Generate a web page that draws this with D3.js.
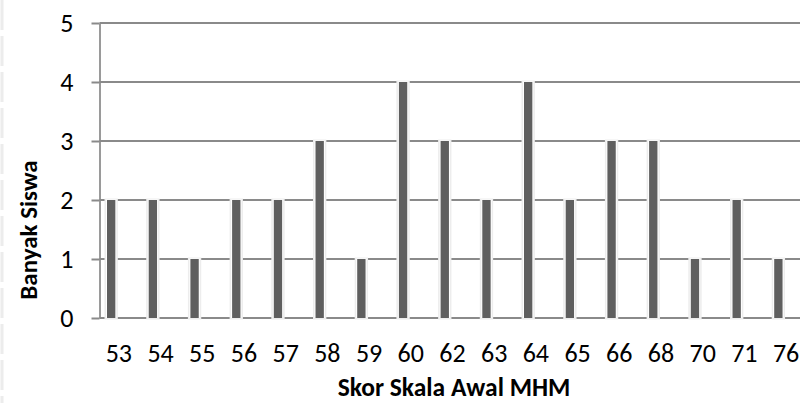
<!DOCTYPE html>
<html>
<head>
<meta charset="utf-8">
<script src="https://cdn.jsdelivr.net/npm/d3@7"></script>
<style>
  html, body { margin: 0; padding: 0; background: #fff; }
  svg { display: block; }
  text { font-family: Carlito, Calibri, Lato, "Open Sans", sans-serif; fill: #000; }
</style>
</head>
<body>
<svg id="chart" width="800" height="403"></svg>
<script>
// Frequency of initial MHM scale scores
const scores = ["53","54","55","56","57","58","59","60","62","63","64","65","66","68","70","71","76"];
const students = [2, 2, 1, 2, 2, 3, 1, 4, 3, 2, 4, 2, 3, 3, 1, 2, 1];
const yTicks = [0, 1, 2, 3, 4, 5];
const xTitle = "Skor Skala Awal MHM";
const yTitle = "Banyak Siswa";

const svg = d3.select("#chart");
const W = 800, H = 403;
const plot = { left: 99.5, top: 23, bottom: 318, bandW: 41.7 };

const x = d3.scaleBand()
  .domain(scores)
  .range([plot.left, plot.left + plot.bandW * scores.length])
  .paddingInner(0).paddingOuter(0);
const y = d3.scaleLinear().domain([0, 5]).range([plot.bottom, plot.top]);

// faint dashed strip along the left border
svg.append("line")
  .attr("x1", 2).attr("x2", 2).attr("y1", 0).attr("y2", H)
  .attr("stroke", "#ececec").attr("stroke-width", 3)
  .attr("stroke-dasharray", "30 6");

// value axis
const yAxis = d3.axisLeft(y).tickValues(yTicks).tickSize(8).tickSizeOuter(0).tickPadding(18)
  .tickFormat(d3.format("d"));
const gy = svg.append("g").attr("transform", `translate(${plot.left},0)`).call(yAxis);
gy.select(".domain").attr("stroke", "#9a9a9a").attr("stroke-width", 2);
gy.selectAll(".tick line").attr("stroke", "#8a8a8a").attr("stroke-width", 2);
gy.selectAll(".tick text").attr("font-size", 26).attr("dy", "0.34em");

// horizontal gridlines
svg.append("g").selectAll("line").data(yTicks).join("line")
  .attr("x1", plot.left).attr("x2", W)
  .attr("y1", d => y(d)).attr("y2", d => y(d))
  .attr("stroke", "#8a8a8a").attr("stroke-width", 2);

// category labels
const xAxis = d3.axisBottom(x).tickSize(0).tickPadding(0);
const gx = svg.append("g").attr("transform", `translate(-1.5,${plot.bottom})`).call(xAxis);
gx.select(".domain").remove();
gx.selectAll(".tick text").attr("font-size", 26).attr("dy", 0).attr("y", 44);

// bars: light halo then the dark bar
const barOff = 0.18, barW = 0.2;
const bars = svg.append("g");
bars.selectAll("rect.halo").data(scores).join("rect")
  .attr("class", "halo")
  .attr("x", (d) => x(d) + x.bandwidth() * barOff - 2.5)
  .attr("width", x.bandwidth() * barW + 5)
  .attr("y", (d, i) => y(students[i]) - 1.5)
  .attr("height", (d, i) => y(0) - y(students[i]) + 3)
  .attr("fill", "#ededed");
bars.selectAll("rect.inner").data(scores).join("rect")
  .attr("class", "inner")
  .attr("x", (d) => x(d) + x.bandwidth() * barOff - 1)
  .attr("width", x.bandwidth() * barW + 2)
  .attr("y", (d, i) => y(students[i]) - 0.5)
  .attr("height", (d, i) => y(0) - y(students[i]) + 0.5)
  .attr("fill", "#ffffff");
bars.selectAll("rect.bar").data(scores).join("rect")
  .attr("class", "bar")
  .attr("x", (d) => x(d) + x.bandwidth() * barOff)
  .attr("width", x.bandwidth() * barW)
  .attr("y", (d, i) => y(students[i]))
  .attr("height", (d, i) => y(0) - y(students[i]))
  .attr("fill", "#5f5f5f");

// axis titles
svg.append("text")
  .attr("x", 454).attr("y", 396)
  .attr("text-anchor", "middle")
  .attr("font-size", 25.5).attr("font-weight", "bold")
  .text(xTitle);
svg.append("text")
  .attr("transform", "translate(37,230) rotate(-90)")
  .attr("text-anchor", "middle")
  .attr("font-size", 25).attr("font-weight", "bold")
  .text(yTitle);
</script>
</body>
</html>
